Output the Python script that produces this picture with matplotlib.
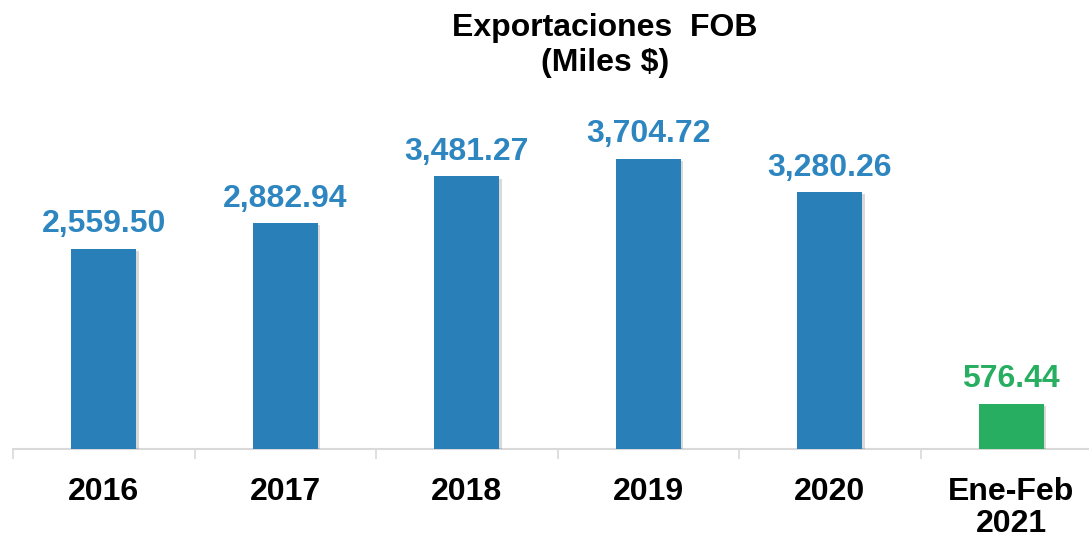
import matplotlib.pyplot as plt
import matplotlib.patheffects as pe
import numpy as np

plt.rcParams['font.family'] = ['Liberation Sans', 'DejaVu Sans']

categories = ['2016', '2017', '2018', '2019', '2020', 'Ene-Feb\n2021']
values = [2559.50, 2882.94, 3481.27, 3704.72, 3280.26, 576.44]
labels = ['2,559.50', '2,882.94', '3,481.27', '3,704.72', '3,280.26', '576.44']

blue = '#2980B9'
green = '#27AE60'
bar_colors = [blue] * 5 + [green]
label_colors = ['#2E86C1'] * 5 + [green]

fig = plt.figure(figsize=(10.89, 5.37), dpi=100)
W, H = 1089, 537
# axes placed in pixel terms: baseline at y=449, one slot = 181.5 px
ax = fig.add_axes([13 / W, 88 / H, 6 * 181.5 / W, 389 / H])

x = np.arange(len(categories))
bars = ax.bar(x, values, width=0.36, color=bar_colors, zorder=3)
for b in bars:
    b.set_path_effects([pe.SimplePatchShadow(offset=(1.5, -1.5), shadow_rgbFace='#000000', alpha=0.15),
                        pe.Normal()])

for xi, v, lab, c in zip(x, values, labels, label_colors):
    ax.annotate(lab, (xi, v), xytext=(0, 7), textcoords='offset points',
                ha='center', va='bottom', fontsize=23, fontweight='bold', color=c)

ax.set_xlim(-0.5, len(categories) - 0.5)
ax.set_ylim(0, 389 / (290 / 3704.72))

ax.set_xticks(x)
ax.set_xticklabels(categories, fontsize=23, fontweight='bold', linespacing=1.08)
ax.set_xticks(np.arange(len(categories) + 1) - 0.5, minor=True)
ax.tick_params(axis='x', which='major', length=0, pad=20)
ax.tick_params(axis='x', which='minor', length=7, width=1.2, color='#D9D9D9', direction='out')
ax.set_yticks([])

for s in ['top', 'right', 'left']:
    ax.spines[s].set_visible(False)
ax.spines['bottom'].set_color('#D9D9D9')
ax.spines['bottom'].set_linewidth(1.5)

fig.text(605 / W, 1 - 13 / H, 'Exportaciones  FOB\n(Miles $)', ha='center', va='top',
         fontsize=23, fontweight='bold', linespacing=1.2)

fig.savefig('out.png', dpi=100)
plt.close()
